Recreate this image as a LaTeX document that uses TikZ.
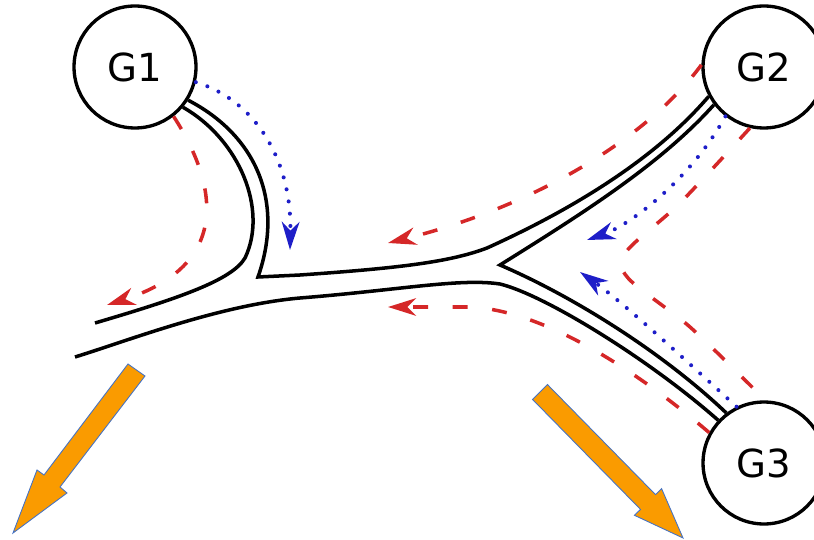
\documentclass[tikz,border=0pt]{standalone}
\usepackage{fontspec}
\setmainfont{DejaVu Sans}
\usetikzlibrary{arrows.meta}
\definecolor{flowred}{RGB}{213,39,40}
\definecolor{flowblue}{RGB}{30,30,200}
\definecolor{heavyorange}{RGB}{250,155,0}
\definecolor{arrowedge}{RGB}{68,114,196}
\begin{document}
\begin{tikzpicture}[x=0.02cm, y=-0.02cm,
    >={Stealth[length=16pt, width=10pt, inset=5pt]},
    station/.style={circle, draw, line width=1.9pt, minimum size=2.44cm, inner sep=0pt, font=\fontsize{22}{26}\selectfont},
    road/.style={line width=2pt},
    redflow/.style={flowred, line width=2pt, dash pattern=on 8.5pt off 14pt},
    blueflow/.style={flowblue, line width=2.3pt, line cap=round, dash pattern=on 0pt off 7pt},
    bigarrow/.style={fill=heavyorange, draw=arrowedge, line width=0.5pt}]
    \useasboundingbox (0,0) rectangle (814,540);
    % stations
    \node[station] (G1) at (135,67) {G1};
    \node[station] (G2) at (764,67) {G2};
    \node[station] (G3) at (764,463) {G3};
    % river banks
    \draw[road] (G1.-40) .. controls (240,140) and (268,210) .. (245,258) .. controls (232,280) and (180,298) .. (95,323);
    \draw[road] (G1.-32) .. controls (255,135) and (285,200) .. (258,277) -- (300,275) .. controls (400,268) and (450,262) .. (487,248) .. controls (560,215) and (650,165) .. (G2.-152);
    \draw[road] (G2.-143) .. controls (660,165) and (580,215) .. (500,265) .. controls (570,295) and (660,350) .. (G3.127);
    \draw[road] (75,357) .. controls (130,340) and (220,305) .. (300,298) .. controls (400,290) and (460,278) .. (500,284) .. controls (545,295) and (650,360) .. (G3.137);
    % red flows
    \draw[redflow, ->] (G1.-52) .. controls (218,185) and (232,265) .. (107,305);
    \draw[redflow, ->] (G2.178) .. controls (650,135) and (540,205) .. (388,243);
    \draw[redflow] plot[smooth] coordinates {(G2.-103) (680,203) (626,252) (628,278) (690,327) (757,392)};
    \draw[redflow, ->] (G3.151) .. controls (630,365) and (540,310) .. (470,307) -- (388,307);
    % blue flows
    \draw[blueflow, ->] (G1.-14) .. controls (255,100) and (292,160) .. (290,250);
    \draw[blueflow, ->] (G2.-128) .. controls (690,180) and (630,225) .. (587,240);
    \draw[blueflow, ->] (G3.116) .. controls (680,355) and (620,300) .. (580,272);
    % orange arrows
    \filldraw[bigarrow] (128,364) -- (145,376) -- (60,487) -- (67,493) -- (13,533) -- (37,470) -- (44,475) -- cycle;
    \filldraw[bigarrow] (532.5,399.4) -- (640.5,509.4) -- (634.4,515.3) -- (683,538) -- (661.6,488.7) -- (655.5,494.6) -- (547.5,384.6) -- cycle;
\end{tikzpicture}
\end{document}
